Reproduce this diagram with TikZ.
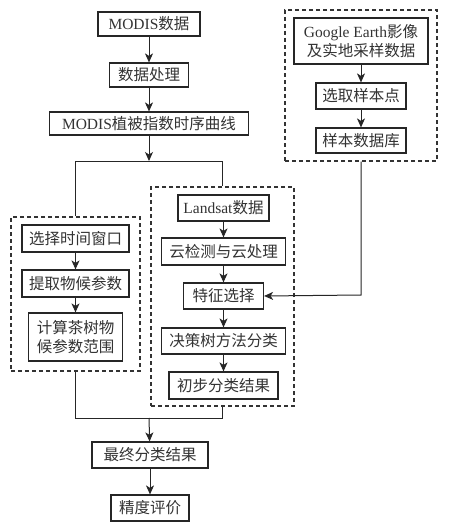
\documentclass[tikz,border=0pt]{standalone}
\usepackage{fontspec}
\setmainfont{Liberation Serif}
\newfontfamily\cjk{Noto Sans CJK SC}
\usetikzlibrary{arrows.meta}
\newcommand\zh[1]{{\cjk #1}}
\begin{document}
\begin{tikzpicture}[x=1pt,y=-1pt,
  bx/.style={draw=black!85, line width=1.2pt, inner sep=0pt, align=center,
    text=black!80, font=\fontsize{15.5}{19}\selectfont},
  grp/.style={draw=black!80, line width=1.1pt, dash pattern=on 4pt off 3pt, inner sep=0pt},
  ln/.style={draw=black!85, line width=1pt},
  ar/.style={ln, -{Stealth[length=9pt,width=8pt,inset=2.5pt]}}]
\useasboundingbox (0,0) rectangle (454,530);
\fill[white] (0,0) rectangle (454,530);
% dashed groups
\node[grp, minimum width=152pt, minimum height=151pt] (R) at (361,85.5) {};
\node[grp, minimum width=129pt, minimum height=154pt] (L) at (75.5,294) {};
\node[grp, minimum width=143pt, minimum height=219pt] (M) at (222.5,296.5) {};
% left column top
\node[bx, minimum width=102pt, minimum height=24pt] (m1) at (149,24) {MODIS\zh{数据}};
\node[bx, minimum width=79pt, minimum height=24pt] (m2) at (149,75) {\zh{数据处理}};
\node[bx, minimum width=199pt, minimum height=23pt] (m3) at (149,123.5) {MODIS\zh{植被指数时序曲线}};
% right group
\node[bx, minimum width=134pt, minimum height=46pt] (g1) at (361,41) {Google Earth\zh{影像}\\\zh{及实地采样数据}};
\node[bx, minimum width=90pt, minimum height=26pt] (g2) at (361,96) {\zh{选取样本点}};
\node[bx, minimum width=90pt, minimum height=25pt] (g3) at (361,140.5) {\zh{样本数据库}};
% left group
\node[bx, minimum width=107pt, minimum height=27pt] (l1) at (75.5,238.5) {\zh{选择时间窗口}};
\node[bx, minimum width=107pt, minimum height=27pt] (l2) at (75.5,283.5) {\zh{提取物候参数}};
\node[bx, minimum width=94pt, minimum height=48pt] (l3) at (75.5,337) {\zh{计算茶树物}\\\zh{候参数范围}};
% middle group
\node[bx, minimum width=91pt, minimum height=26pt] (c1) at (223.5,208) {Landsat\zh{数据}};
\node[bx, minimum width=124pt, minimum height=27pt] (c2) at (223.5,251.5) {\zh{云检测与云处理}};
\node[bx, minimum width=80pt, minimum height=26pt] (c3) at (223.5,296) {\zh{特征选择}};
\node[bx, minimum width=124pt, minimum height=26pt] (c4) at (223.5,341) {\zh{决策树方法分类}};
\node[bx, minimum width=109pt, minimum height=27pt] (c5) at (223.5,385.5) {\zh{初步分类结果}};
% bottom
\node[bx, minimum width=116pt, minimum height=26pt] (f1) at (150,455) {\zh{最终分类结果}};
\node[bx, minimum width=78pt, minimum height=26pt] (f2) at (150,508) {\zh{精度评价}};
% coordinates
\coordinate (j1) at (149,161);
\coordinate (jl) at (75.5,161);
\coordinate (jm) at (222.5,161);
\coordinate (k1) at (149,418);
\coordinate (kl) at (75.5,418);
\coordinate (km) at (222.5,418);
\coordinate (rr) at (361,295);
% connectors
\draw[ar] (m1) -- (m2);
\draw[ar] (m2) -- (m3);
\draw[ar] (m3) -- (j1);
\draw[ln] (L.north) -- (jl) -- (jm) -- (M.north);
\draw[ar] (g1) -- (g2);
\draw[ar] (g2) -- (g3);
\draw[ar] (R.south) -- (rr) -- (c3.east);
\draw[ar] (l1) -- (l2);
\draw[ar] (l2) -- (l3);
\draw[ar] (c1) -- (c2);
\draw[ar] (c2) -- (c3);
\draw[ar] (c3) -- (c4);
\draw[ar] (c4) -- (c5);
\draw[ln] (L.south) -- (kl) -- (km) -- (M.south);
\draw[ar] (k1) -- (f1);
\draw[ar] (f1) -- (f2);
\end{tikzpicture}
\end{document}
